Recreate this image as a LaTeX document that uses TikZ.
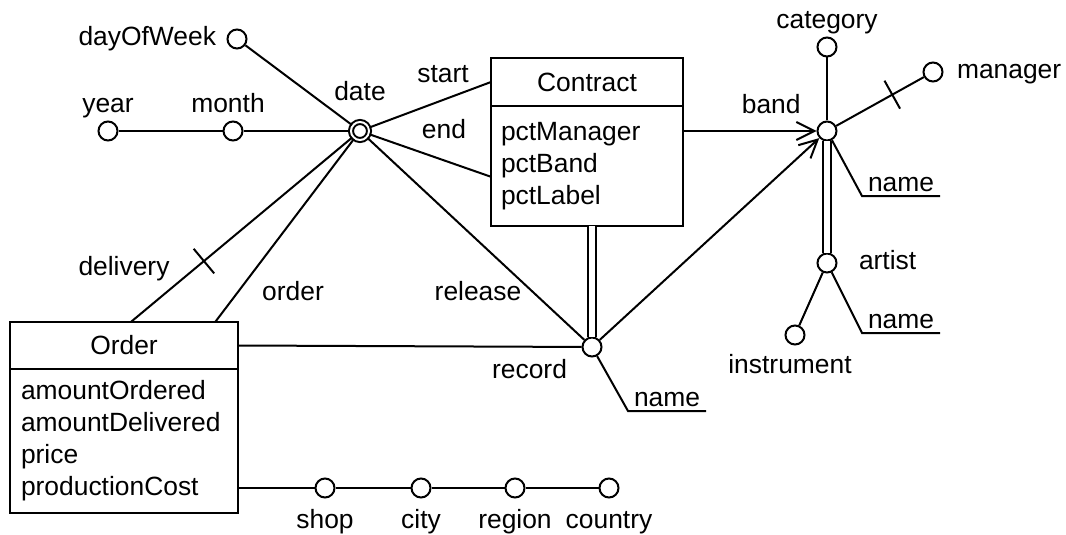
\documentclass[tikz,border=0pt]{standalone}
\usepackage{fontspec}
\setmainfont{Liberation Sans}
\usepackage{tikz}
\usetikzlibrary{calc}
\usetikzlibrary{positioning}
\usetikzlibrary{arrows.meta}
\newcommand{\erfont}{\fontsize{13.2}{16}\selectfont}
\newcommand{\widthcontract}{96pt}
\newcommand{\widthorder}{114pt}
\newcommand{\crossbar}{\rule{1pt}{16pt}}
\tikzset{
    common/.style={draw, rectangle, outer sep=0pt, font=\erfont},
    head/.style={common, minimum height=24pt},
    body/.style={common, anchor=north, align=left, inner xsep=5pt},
    attr/.style={draw, circle, minimum size=9.5pt, inner sep=0pt, label distance=2.5pt},
    dim/.style={attr, double, double distance=1pt, minimum size=9pt},
    key/.style={font=\erfont, anchor=south west, inner xsep=2.5pt, inner ysep=1.5pt},
    txt/.style={font=\erfont, inner sep=0pt, anchor=base},
    tick/.style={sloped, inner sep=0pt, outer sep=0pt},
    arr/.style={-{Straight Barb[length=9pt, width=9pt]}},
    every label/.style={font=\erfont, inner sep=0pt, text height=9.9pt, text depth=3.3pt}
}

\begin{document}
\begin{tikzpicture}[x=0.5pt, y=-0.5pt, line width=1pt]
  \useasboundingbox (0,0) rectangle (1066,535);

  \path (108,131) node[attr, label=above:year] (year) {}
    ++(125,0) node[attr, label={[xshift=-2.5pt]above:month}] (month) {}
    ++(127,0) node[dim, label={[label distance=6.2pt]above:date}] (date) {};
  \path (237,39) node[attr, label={[label distance=4.75pt]left:dayOfWeek}] (dayofweek) {};

  \node[head, minimum width=\widthcontract] (contract) at (587,82) {Contract};
  \node[body, text width=86pt, minimum height=60pt, below=0pt of contract] (contract-body) {pctManager\\pctBand\\pctLabel};

  \node[head, minimum width=\widthorder, minimum height=23.5pt] (order) at (124,345.5) {Order};
  \node[body, text width=103pt, inner xsep=5.5pt, minimum height=72pt, below=0pt of order] (order-body) {amountOrdered\\amountDelivered\\price\\productionCost};

  \path (827,131) node[attr, label={[label distance=0pt, xshift=-9pt, yshift=1pt]above left:band}] (band) {}
    +(0,-84) node[attr, label=above:category] (category) {}
    +(106,-59) node[attr, label={[label distance=6.25pt]right:manager}] (manager) {}
    ++(0,132) node[attr, label={[label distance=10.25pt]right:artist}] (artist) {}
    +(-32,72) node[attr, label={[label distance=3.35pt, xshift=-2.5pt]below:instrument}] (instrument) {};
  \node[key] (band-name) at (862,196) {name};
  \node[key] (artist-name) at (862,333) {name};

  \path (592,347) node[attr, label={[label distance=0pt, xshift=-8.3pt, yshift=-1.8pt]below left:record}] (record) {};
  \node[key] (record-name) at (628,411) {name};

  \path (325,488) node[attr, label={[label distance=4.35pt]below:shop}] (shop) {}
    ++(96,0) node[attr, label={[label distance=4.35pt]below:city}] (city) {}
    ++(94,0) node[attr, label={[label distance=4.35pt]below:region}] (region) {}
    ++(94,0) node[attr, label={[label distance=4.35pt]below:country}] (country) {};

  \node[txt] (start-lbl) at (443,83) {start};
  \node[txt] (end-lbl) at (444,139) {end};
  \node[txt] (delivery-lbl) at (124,275) {delivery};
  \node[txt] (order-lbl) at (293,300) {order};
  \node[txt] (release-lbl) at (478,300) {release};

  \coordinate (end-in) at ($(contract-body.west)!0.18!(contract-body.south west)$);
  \coordinate (delivery-in) at ($(order.north west)!0.53!(order.north east)$);
  \coordinate (order-in) at ($(order.north west)!0.9!(order.north east)$);

  \draw (year) -- (month) -- (date);
  \draw (date) edge (dayofweek) edge (contract.west) edge (end-in) edge (record);
  \draw (delivery-in) -- node[tick, pos=0.33] (delivery-tick) {\crossbar} (date);
  \draw (order-in) -- (date);

  \draw (band) -- (category);
  \draw (band) -- node[tick, pos=0.64] (manager-tick) {\crossbar} (manager);
  \draw (band) -- (band-name.south west) -- (band-name.south east);
  \draw (artist) -- (artist-name.south west) -- (artist-name.south east);
  \draw (artist) -- (instrument);
  \draw (record) -- (record-name.south west) -- (record-name.south east);

  \draw[double, double distance=3pt] (band) -- (artist);
  \draw[double, double distance=3pt] (record) -- (record |- contract-body.south);

  \draw[arr] (contract-body.east |- band) -- (band);
  \draw[arr] (record) -- (band);
  \draw (order.east) -- (record);
  \draw (order-body.east |- shop) -- (shop) -- (city) -- (region) -- (country);
\end{tikzpicture}
\end{document}
